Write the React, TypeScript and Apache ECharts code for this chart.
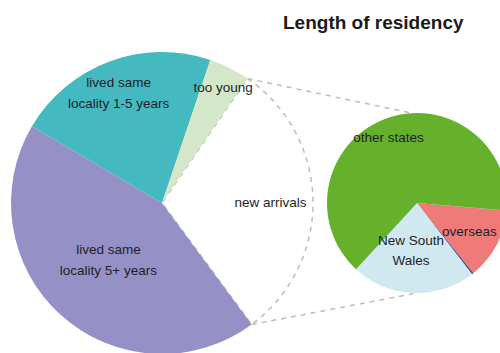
import React, { useEffect, useRef } from "react";
import * as echarts from "echarts";

// Main pie (clockwise order from the start angle)
const mainCategories = [
  "new arrivals",
  "lived same\nlocality 5+ years",
  "lived same\nlocality 1-5 years",
  "too young",
];
const mainValues = [30.3, 43.6, 21.7, 4.4];

// Breakdown of new arrivals
const subCategories = ["overseas", "not stated", "New South\nWales", "other states"];
const subValues = [12.9, 0.3, 22.3, 64.5];

const titleText = "Length of residency";

const mainColors = ["#ffffff", "#9591c7", "#45b9c0", "#d4e7c9"];
const subColors = ["#f07a78", "#3d4a7e", "#d0e8ef", "#66b12b"];

// label nudges (px) relative to ECharts' default inside position
const mainLabelShift = [
  [30, 1],
  [-1, -1],
  [-16, -36],
  [26, -45],
];
const subLabelShift = [
  [10, 6],
  [0, 0],
  [-4, 0],
  [-11, -21],
];

const MAIN_C = [162, 203];
const MAIN_R = 151;
const MAIN_START = 55.5;
const SUB_C = [417, 203];
const SUB_R = 90;
const SUB_START = 355.2;

export default function App() {
  const ref = useRef<HTMLDivElement>(null);
  useEffect(() => {
    document.body.style.margin = "0";
    const chart = echarts.init(ref.current!, null, { renderer: "svg" });

    const total = mainValues.reduce((a, b) => a + b, 0);
    const a0 = (MAIN_START * Math.PI) / 180;
    const a1 = ((MAIN_START - (mainValues[0] / total) * 360) * Math.PI) / 180;
    const p0 = [MAIN_C[0] + MAIN_R * Math.cos(a0), MAIN_C[1] - MAIN_R * Math.sin(a0)];
    const p1 = [MAIN_C[0] + MAIN_R * Math.cos(a1), MAIN_C[1] - MAIN_R * Math.sin(a1)];
    const q0 = [SUB_C[0] - 6, SUB_C[1] - SUB_R];
    const q1 = [SUB_C[0], SUB_C[1] + SUB_R];

    const dashStyle = { stroke: "#bdbdbd", lineWidth: 1.5, lineDash: [5, 5] };
    const labelFont = {
      fontFamily: "'Liberation Sans', Arial, sans-serif",
      fontSize: 13.5,
      lineHeight: 21,
      color: "#1e1e2a",
    };

    chart.setOption({
      animation: false,
      backgroundColor: "#ffffff",
      title: {
        text: titleText,
        left: 283,
        top: 13,
        padding: 0,
        textStyle: {
          fontFamily: "'Liberation Sans', Arial, sans-serif",
          fontSize: 19,
          fontWeight: "bold",
          color: "#1a1a1a",
        },
      },
      graphic: [
        {
          type: "line",
          shape: { x1: p0[0], y1: p0[1], x2: q0[0], y2: q0[1] },
          style: dashStyle,
          z: 0,
        },
        {
          type: "line",
          shape: { x1: p1[0], y1: p1[1], x2: q1[0], y2: q1[1] },
          style: dashStyle,
          z: 0,
        },
      ],
      series: [
        {
          type: "pie",
          center: MAIN_C,
          radius: MAIN_R,
          startAngle: MAIN_START,
          clockwise: true,
          avoidLabelOverlap: false,
          label: { show: true, position: "inside", ...labelFont },
          labelLine: { show: false },
          emphasis: { disabled: true },
          labelLayout: (p: any) => ({
            dx: mainLabelShift[p.dataIndex][0],
            dy: mainLabelShift[p.dataIndex][1],
          }),
          data: mainCategories.map((name, i) => ({
            name,
            value: mainValues[i],
            itemStyle:
              i === 0
                ? {
                    color: mainColors[i],
                    borderColor: "#bdbdbd",
                    borderWidth: 1.5,
                    borderType: [5, 5],
                  }
                : { color: mainColors[i], borderWidth: 0 },
          })),
        },
        {
          type: "pie",
          center: SUB_C,
          radius: SUB_R,
          startAngle: SUB_START,
          clockwise: true,
          avoidLabelOverlap: false,
          label: { show: true, position: "inside", ...labelFont, lineHeight: 20 },
          labelLine: { show: false },
          emphasis: { disabled: true },
          labelLayout: (p: any) => ({
            dx: subLabelShift[p.dataIndex][0],
            dy: subLabelShift[p.dataIndex][1],
          }),
          data: subCategories.map((name, i) => ({
            name,
            value: subValues[i],
            label: i === 1 ? { show: false } : undefined,
            itemStyle: { color: subColors[i], borderWidth: 0 },
          })),
        },
      ],
    });
    return () => chart.dispose();
  }, []);
  return <div ref={ref} style={{ width: 500, height: 353 }} />;
}
